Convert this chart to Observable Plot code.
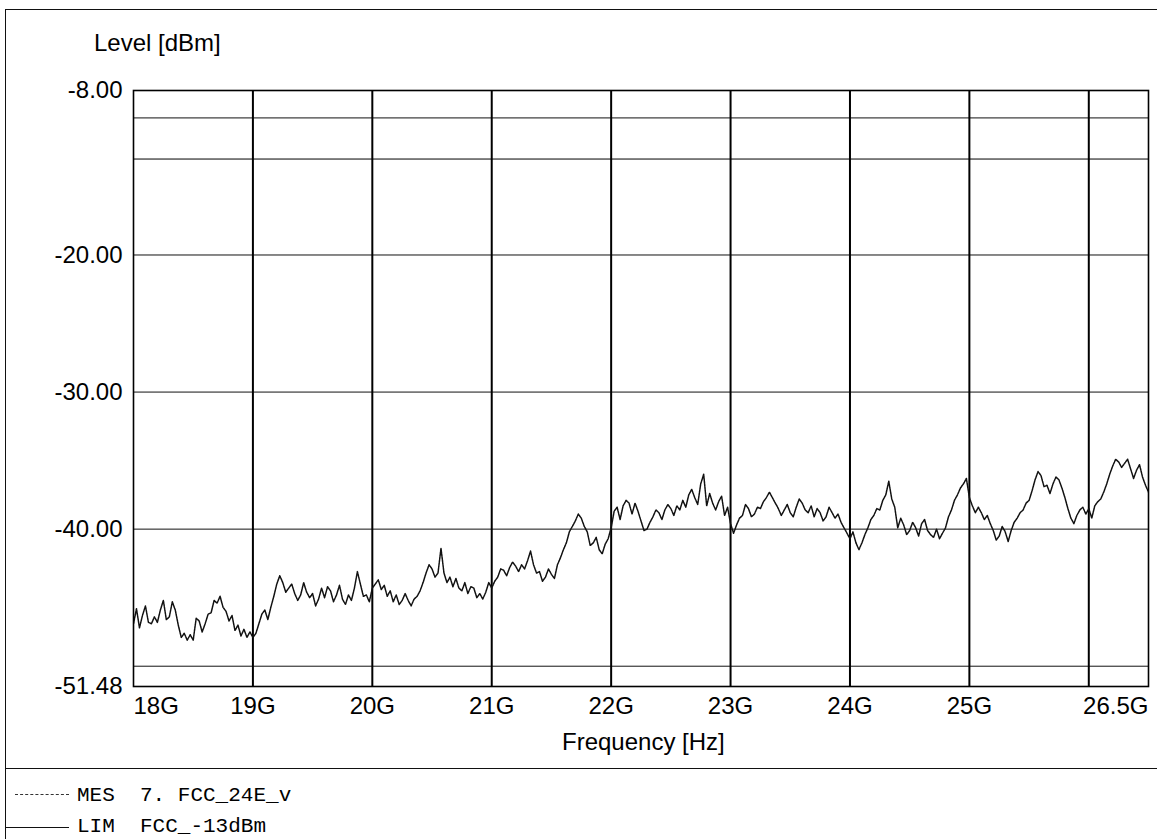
<!DOCTYPE html>
<html>
<head>
<meta charset="utf-8">
<script src="https://cdn.jsdelivr.net/npm/d3@7"></script>
<script src="https://cdn.jsdelivr.net/npm/@observablehq/plot@0.6"></script>
<style>
  html, body { margin: 0; padding: 0; background: #fff; }
  #page { position: relative; width: 1157px; height: 839px; background: #fff; overflow: hidden;
          font-family: "Liberation Sans", Arial, sans-serif; color: #000; }
  .hl { position: absolute; height: 0; border-top: 1.5px solid #111; }
  .vl { position: absolute; width: 0; border-left: 1.5px solid #111; }
  .lbl { position: absolute; font-size: 24px; white-space: nowrap; line-height: 1; }
  .leg { position: absolute; font-family: "Liberation Mono", "DejaVu Sans Mono", monospace; font-size: 21px;
         white-space: pre; line-height: 1; }
  #chart { position: absolute; left: 0; top: 0; }
</style>
</head>
<body>
<div id="page">
  <div id="chart"></div>
  <div class="vl" style="left:5px; top:9px; height:830px;"></div>
  <div class="hl" style="left:5px; top:9px; width:1152px;"></div>
  <div class="hl" style="left:5px; top:768px; width:1152px; border-top-width:1px;"></div>
  <div class="lbl" id="ylabel" style="left:94px; top:31px;">Level [dBm]</div>
  <div class="lbl" id="xlabel" style="left:562px; top:730px;">Frequency [Hz]</div>
  <div class="hl" style="left:15px; top:794px; width:54px; border-top:1px dashed #333;"></div>
  <div class="hl" style="left:5px; top:827px; width:64px; border-top-width:1px;"></div>
  <div class="leg" id="leg1" style="left:77px; top:785px;"></div>
  <div class="leg" id="leg2" style="left:77px; top:816px;"></div>
</div>
<script>
// ---- Data ----
const freqStartGHz = 18;
const freqStepGHz = 0.025;
// MES trace levels [dBm], one value every 0.025 GHz from 18.000 to 26.500 GHz
const mesLevels = [
  -46.9,-45.8,-47.2,-46.3,-45.6,-46.8,-46.9,-46.4,-46.8,-45.9,
  -45.2,-46.6,-46.4,-45.3,-45.9,-47.0,-47.9,-47.6,-48.1,-47.7,
  -48.1,-46.5,-46.7,-47.5,-46.9,-46.2,-46.1,-45.2,-45.4,-44.9,
  -45.7,-46.0,-46.7,-46.3,-47.4,-47.0,-47.8,-47.3,-47.9,-47.5,
  -47.9,-47.6,-46.9,-46.2,-45.9,-46.6,-45.7,-44.9,-44.0,-43.4,
  -43.9,-44.6,-44.3,-44.0,-44.7,-45.2,-44.8,-43.9,-44.6,-45.0,
  -44.7,-45.6,-45.1,-44.3,-45.0,-44.2,-44.5,-45.3,-44.8,-44.1,
  -45.1,-45.5,-44.8,-45.2,-44.3,-43.1,-44.0,-44.9,-44.8,-45.3,
  -44.3,-44.0,-43.7,-44.4,-44.1,-44.9,-44.5,-45.3,-44.8,-45.5,
  -45.2,-44.7,-45.2,-45.6,-45.1,-44.9,-44.5,-43.9,-43.2,-42.6,
  -42.9,-43.5,-43.2,-41.4,-43.2,-43.9,-43.5,-44.2,-43.6,-44.3,
  -44.5,-43.9,-44.7,-44.2,-44.3,-45.0,-44.7,-45.1,-44.6,-43.9,
  -44.3,-43.8,-43.5,-42.9,-43.0,-43.4,-42.8,-42.4,-42.7,-43.1,
  -42.6,-42.9,-42.3,-41.6,-42.6,-43.2,-43.1,-43.8,-43.5,-42.9,
  -43.3,-43.6,-42.6,-42.1,-41.5,-41.0,-40.2,-39.8,-39.4,-38.9,
  -39.2,-39.8,-40.2,-41.2,-41.0,-40.6,-41.5,-41.8,-41.1,-40.7,
  -39.9,-38.7,-38.4,-39.3,-38.3,-37.9,-38.1,-38.9,-38.1,-38.7,
  -39.4,-40.1,-40.0,-39.5,-39.1,-38.6,-38.8,-39.3,-38.6,-38.2,
  -38.5,-39.0,-38.3,-38.6,-37.9,-38.4,-37.5,-37.1,-37.7,-38.2,
  -36.7,-36.0,-38.3,-37.4,-38.1,-38.6,-38.0,-37.6,-39.0,-38.4,
  -39.6,-40.3,-39.7,-39.2,-39.0,-38.2,-38.5,-39.1,-38.9,-38.4,
  -38.5,-38.0,-37.7,-37.3,-37.7,-38.1,-38.5,-39.0,-38.6,-38.2,
  -38.8,-39.1,-38.4,-37.8,-38.1,-38.6,-38.8,-38.3,-39.1,-38.5,
  -38.8,-39.4,-39.1,-38.4,-38.8,-39.2,-38.9,-39.5,-39.9,-40.3,
  -40.7,-40.2,-41.0,-41.5,-41.0,-40.4,-39.9,-39.3,-39.0,-38.5,
  -38.6,-37.9,-37.5,-36.5,-37.8,-38.4,-39.9,-39.2,-39.7,-40.4,
  -40.1,-39.5,-39.9,-40.5,-39.6,-39.3,-40.1,-40.4,-40.6,-40.0,
  -40.7,-40.3,-39.9,-39.1,-38.6,-37.9,-37.5,-37.0,-36.7,-36.3,
  -37.7,-38.3,-38.8,-38.4,-38.8,-39.3,-39.0,-39.6,-40.1,-40.8,
  -40.5,-39.8,-40.2,-40.9,-40.1,-39.5,-39.2,-38.8,-38.6,-38.1,
  -37.9,-37.2,-36.4,-35.8,-36.1,-36.9,-36.8,-37.4,-36.7,-36.2,
  -36.4,-37.0,-37.7,-38.5,-39.2,-39.6,-39.0,-38.6,-38.4,-38.9,
  -38.5,-39.2,-38.3,-38.0,-37.8,-37.3,-36.7,-36.0,-35.4,-34.9,
  -35.1,-35.5,-35.2,-34.9,-35.6,-36.3,-35.7,-35.3,-36.2,-36.8,
  -37.3
];
const limitLevel = -13;                       // LIM FCC_-13dBm
const xDomain = [18, 26.5];
const yDomain = [-51.48, -8];
const xTickLabels = [18, 19, 20, 21, 22, 23, 24, 25, 26.5];
const xGridLines = [19, 20, 21, 22, 23, 24, 25, 26];
const yTickLabels = [-8, -20, -30, -40, -51.48];
const yGridLines = [-10, -20, -30, -40, -50];
const legendRows = ["MES  7. FCC_24E_v", "LIM  FCC_-13dBm"];

// ---- Build ----
const mes = mesLevels.map((v, i) => ({f: freqStartGHz + i * freqStepGHz, v}));
const fmtX = d => d + "G";
const fmtY = d => d.toFixed(2);
const axisFont = {fontSize: 24};

const chart = Plot.plot({
  width: 1157,
  height: 760,
  marginTop: 90,
  marginBottom: 74,
  marginLeft: 133,
  marginRight: 9,
  style: {fontFamily: "'Liberation Sans', Arial, sans-serif", fontSize: "24px", color: "#000", background: "transparent"},
  x: {domain: xDomain, label: null},
  y: {domain: yDomain, label: null},
  marks: [
    Plot.ruleY(yGridLines, {stroke: "#111", strokeWidth: 1}),
    Plot.ruleY([limitLevel], {stroke: "#000", strokeWidth: 1}),
    Plot.ruleX(xGridLines, {stroke: "#000", strokeWidth: 2}),
    Plot.line(mes, {x: "f", y: "v", stroke: "#111", strokeWidth: 1.5, strokeDasharray: "2,0.8", clip: true}),
    Plot.frame({stroke: "#000", strokeWidth: 1.6}),
    Plot.axisY(yTickLabels, {tickSize: 0, tickPadding: 11, tickFormat: fmtY, label: null, ...axisFont}),
    Plot.axisX([xTickLabels[0]], {tickSize: 0, tickPadding: 10, tickFormat: fmtX, label: null, textAnchor: "start", ...axisFont}),
    Plot.axisX(xTickLabels.slice(1, -1), {tickSize: 0, tickPadding: 10, tickFormat: fmtX, label: null, ...axisFont}),
    Plot.axisX([xTickLabels[xTickLabels.length - 1]], {tickSize: 0, tickPadding: 10, tickFormat: fmtX, label: null, textAnchor: "end", ...axisFont})
  ]
});
document.getElementById("chart").appendChild(chart);
document.getElementById("leg1").textContent = legendRows[0];
document.getElementById("leg2").textContent = legendRows[1];
</script>
</body>
</html>
